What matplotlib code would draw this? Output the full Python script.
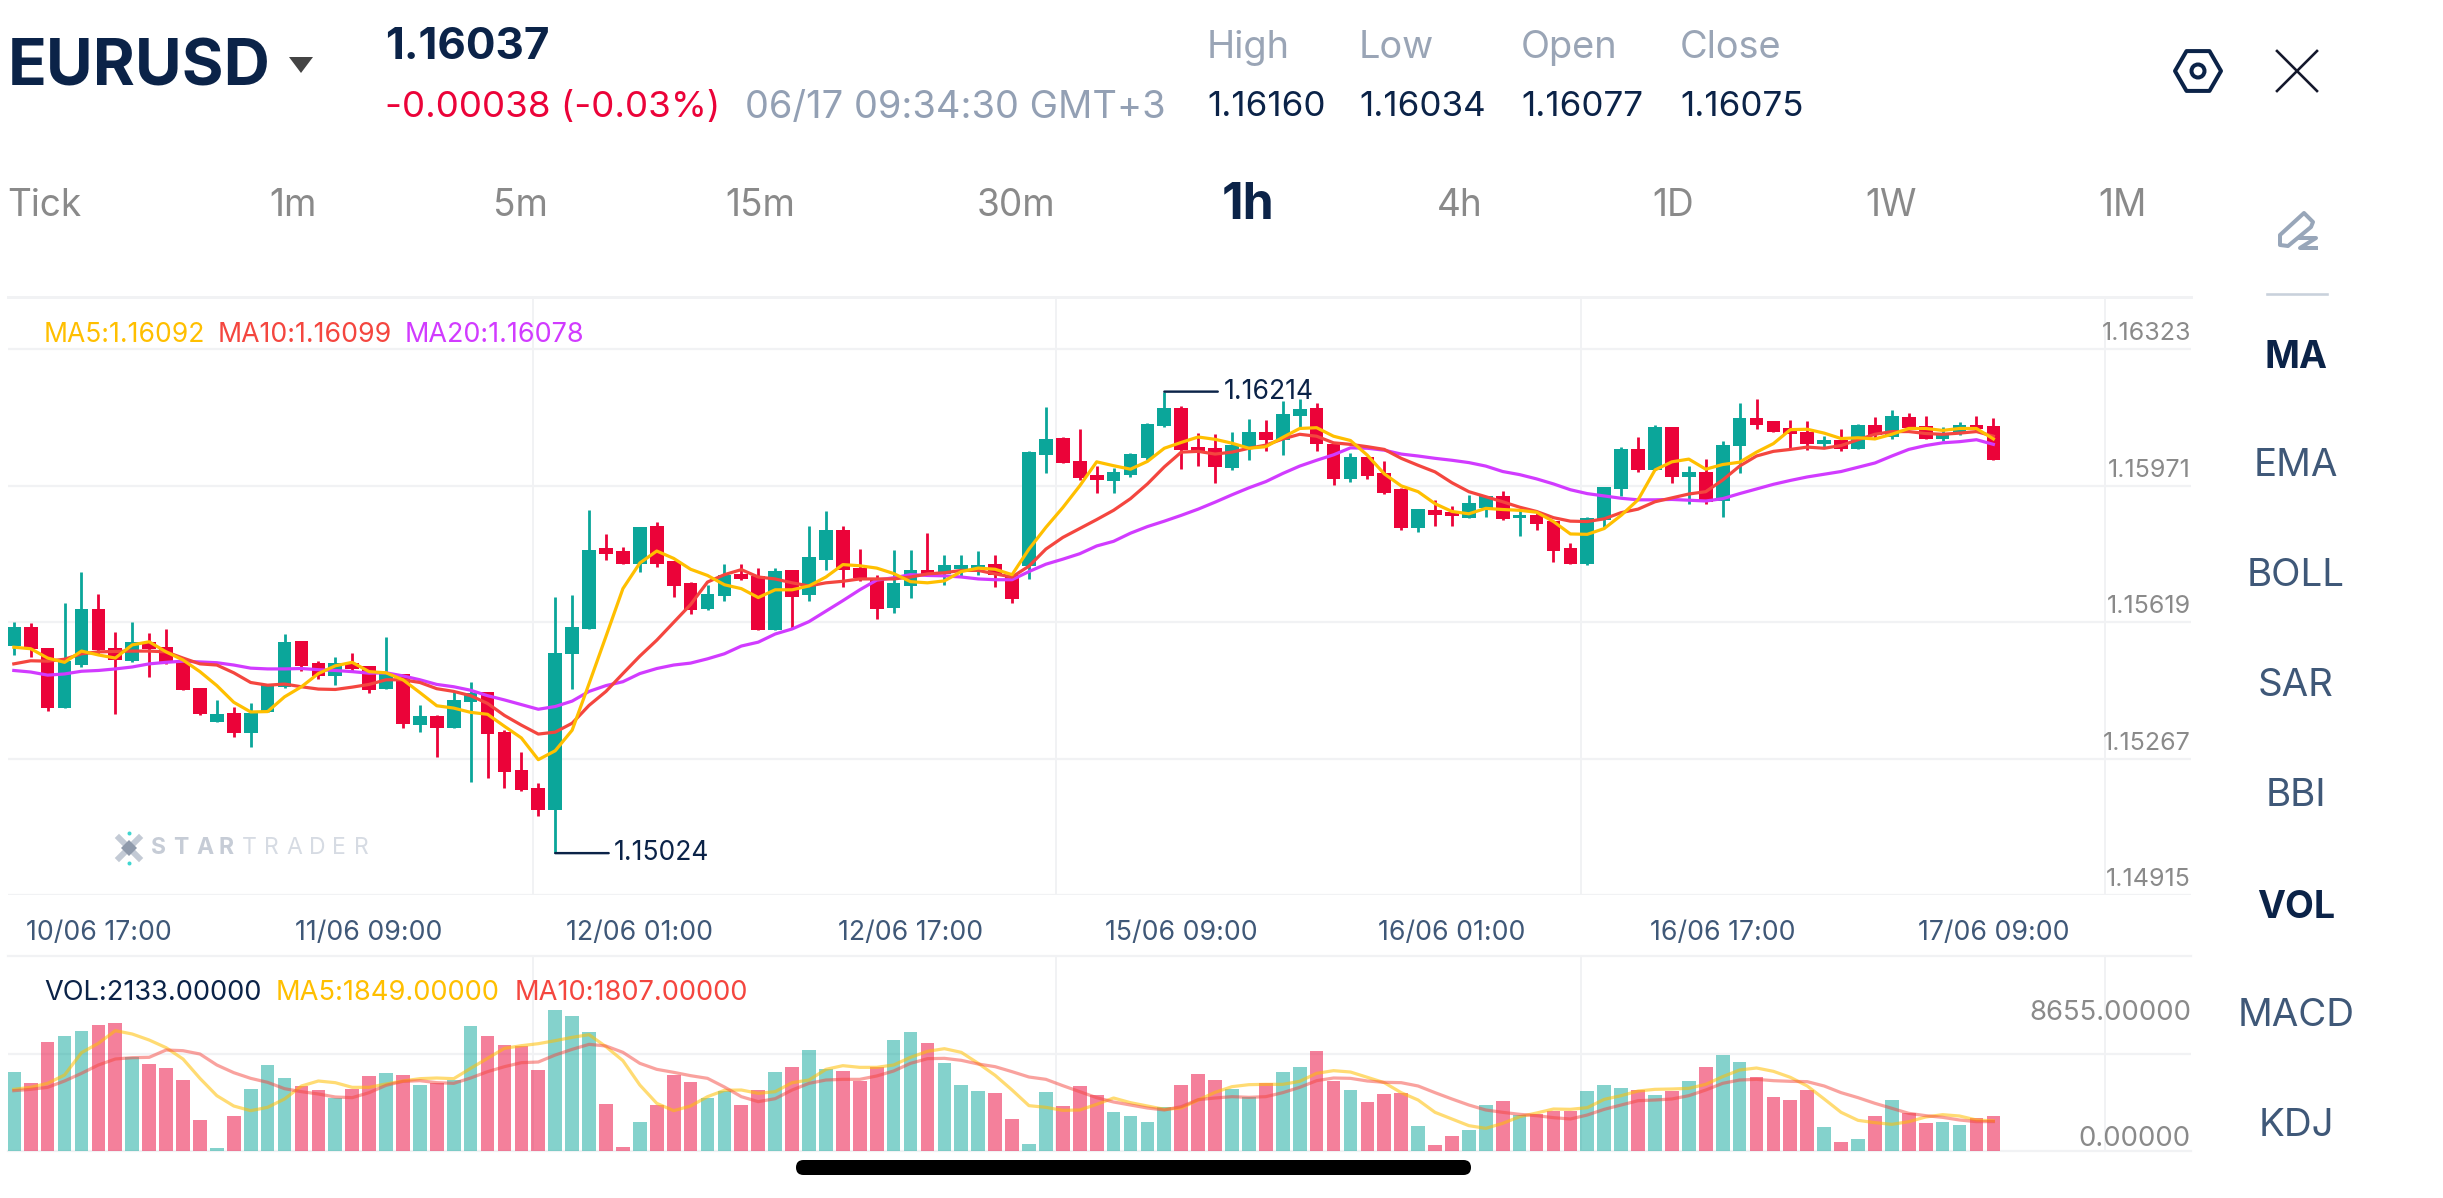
import numpy as np
import matplotlib
matplotlib.use("Agg")
import matplotlib.pyplot as plt
from matplotlib.patches import FancyBboxPatch, Polygon, RegularPolygon, Circle
from matplotlib.transforms import ScaledTranslation

W, H, DPI = 2443, 1198, 100
UI_FONT = "Inter"
plt.rcParams["font.family"] = [UI_FONT, "DejaVu Sans"]

# Hourly EURUSD quotes, in points (1 point = 0.00001)
opens = [115558,115608,115552,115397,115509,115653,115553,115519,115569,115556,115519,115451,115362,115385,115335,115389,115453,115572,115513,115481,115515,115507,115447,115485,115355,115377,115346,115413,115440,115337,115239,115193,115134,115537,115603,115810,115803,115770,115867,115777,115720,115653,115687,115744,115738,115599,115753,115689,115781,115858,115759,115731,115655,115712,115754,115743,115757,115758,115770,115740,115764,116051,116095,116036,115999,115984,115998,116042,116125,116173,116070,116068,116017,116070,116110,116090,116150,116171,116078,115988,116045,116004,115963,115862,115910,115904,115889,115915,115944,115887,115895,115881,115811,115769,115883,115964,116065,116012,116124,115994,116006,115933,116073,116147,116137,116119,116109,116078,116088,116067,116128,116097,116149,116126,116092,116104,116128,116125]
highs = [115621,115617,115552,115668,115750,115693,115594,115619,115592,115602,115519,115451,115419,115402,115412,115461,115588,115572,115520,115530,115541,115507,115581,115485,115405,115379,115441,115466,115440,115342,115285,115205,115684,115689,115908,115848,115813,115866,115878,115777,115723,115716,115770,115769,115758,115759,115753,115867,115905,115868,115808,115742,115806,115805,115849,115793,115792,115802,115793,115740,116062,116174,116097,116117,116021,116017,116057,116134,116214,116178,116107,116105,116109,116144,116141,116190,116195,116184,116080,116056,116045,116035,115966,115911,115935,115920,115948,115946,115959,115910,115900,115881,115824,115891,115967,116070,116096,116129,116124,116022,116039,116086,116184,116195,116139,116140,116137,116099,116117,116131,116148,116166,116159,116150,116123,116135,116150,116147]
lows = [115536,115531,115391,115397,115505,115538,115384,115517,115478,115512,115444,115381,115362,115323,115298,115388,115450,115493,115474,115458,115494,115437,115446,115346,115337,115272,115346,115208,115219,115193,115185,115119,115024,115448,115602,115779,115770,115750,115762,115684,115640,115652,115673,115729,115599,115599,115603,115675,115755,115711,115726,115627,115642,115682,115740,115715,115738,115740,115709,115670,115731,116005,116029,115986,115953,115952,115993,116037,116124,116014,116022,115978,116012,116037,116062,116051,116122,116060,115974,115982,115988,115949,115858,115851,115868,115868,115888,115891,115882,115842,115856,115775,115769,115768,115864,115944,116006,116011,115979,115925,115924,115892,116005,116118,116109,116066,116064,116072,116062,116066,116092,116091,116117,116091,116086,116101,116113,116037]
closes = [115608,115550,115398,115519,115653,115548,115521,115569,115550,115515,115445,115382,115384,115333,115385,115460,115569,115506,115481,115515,115499,115445,115489,115356,115378,115347,115420,115436,115331,115232,115186,115135,115541,115608,115806,115796,115770,115866,115770,115714,115652,115691,115742,115731,115599,115752,115684,115787,115857,115755,115733,115654,115720,115754,115741,115768,115767,115768,115740,115679,116058,116092,116031,115991,115985,116006,116052,116131,116172,116063,116058,116019,116076,116111,116088,116157,116170,116078,115988,116046,115997,115953,115862,115911,115895,115894,115926,115946,115886,115895,115872,115802,115770,115889,115967,116065,116012,116124,115995,116007,115930,116077,116146,116127,116111,116104,116080,116088,116066,116129,116101,116150,116121,116092,116104,116129,116117,116037]

ma5 = [115555,115551,115527,115516,115545,115535,115527,115561,115569,115543,115522,115492,115456,115413,115388,115389,115427,115453,115487,115507,115516,115492,115489,115471,115438,115404,115398,115387,115382,115351,115321,115265,115288,115341,115461,115583,115706,115772,115803,115784,115756,115740,115716,115706,115683,115703,115703,115713,115736,115768,115765,115759,115745,115724,115721,115726,115750,115759,115756,115742,115808,115864,115915,115971,116033,116023,116014,116034,116068,116083,116097,116091,116081,116068,116072,116096,116119,116121,116099,116088,116050,116002,115971,115956,115925,115905,115899,115913,115910,115908,115903,115879,115847,115846,115861,115895,115935,116012,116033,116040,116014,116026,116032,116058,116080,116116,116117,116107,116093,116095,116092,116104,116119,116119,116114,116119,116119,116092]
ma10 = [115512,115520,115519,115524,115538,115543,115544,115545,115545,115543,115527,115512,115509,115489,115464,115457,115460,115453,115447,115446,115452,115459,115471,115471,115464,115448,115441,115430,115410,115379,115354,115331,115336,115359,115405,115441,115487,115532,115573,115619,115665,115723,115742,115755,115736,115731,115721,115713,115721,115725,115731,115731,115731,115736,115744,115747,115753,115753,115744,115736,115764,115808,115838,115861,115884,115908,115938,115976,116020,116058,116060,116053,116058,116068,116076,116092,116104,116099,116082,116078,116072,116065,116042,116024,116007,115979,115956,115943,115930,115916,115905,115889,115880,115879,115886,115902,115911,115930,115940,115950,115956,115986,116022,116048,116060,116065,116071,116068,116075,116090,116104,116111,116111,116106,116104,116107,116111,116099]
ma20 = [115495,115491,115483,115486,115493,115495,115499,115504,115512,115516,115519,115517,115515,115509,115501,115499,115499,115500,115497,115495,115492,115488,115489,115481,115471,115459,115453,115444,115430,115419,115407,115395,115402,115416,115441,115456,115466,115487,115500,115509,115514,115525,115538,115558,115568,115589,115602,115621,115648,115675,115703,115728,115734,115742,115740,115739,115736,115731,115729,115729,115750,115769,115782,115796,115816,115828,115849,115866,115880,115895,115911,115929,115948,115966,115982,116003,116022,116037,116051,116069,116068,116063,116053,116048,116042,116037,116031,116022,116008,116000,115989,115976,115961,115951,115945,115939,115935,115935,115936,115934,115932,115938,115951,115963,115975,115985,115994,116001,116008,116019,116030,116048,116065,116075,116082,116085,116090,116078]

volume = [4829,4153,6690,7079,7386,7734,7877,5749,5320,5095,4358,1903,184,2128,3806,5279,4481,4010,3744,3274,3806,4604,4788,4665,4031,4153,4358,7673,7059,6506,6445,4972,8655,8266,7304,2864,266,1780,2823,4665,4215,3233,3683,2803,3724,4849,5135,6179,5013,4890,4276,5135,6813,7325,6609,5381,4031,3683,3560,1964,450,3621,2742,3990,3417,2394,2169,1780,2680,4031,4747,4338,3806,3335,4153,4829,5135,6138,4317,3744,3008,3519,3540,1555,368,941,1289,2844,3049,2210,2271,2455,2455,3683,4072,3887,3744,3458,3683,4297,5135,5913,5463,4522,3315,3130,3724,1473,552,716,2148,3110,2332,1719,1780,1596,2026,2133]
vol_ma5 = [3785,3908,4153,4665,6036,6609,7386,7181,6813,6343,5647,4460,3396,2762,2476,2680,3192,3990,4297,4194,3908,3908,4112,4297,4440,4481,4440,5074,5688,6302,6465,6588,6772,6977,7141,6404,5545,4051,2926,2476,2762,3335,3724,3744,3540,3642,4194,4358,5013,5238,5135,5135,5279,5749,6118,6281,6056,5381,4644,3744,2783,2680,2496,2517,2864,3253,2967,2762,2558,2639,3130,3601,3949,4072,4092,4092,4276,4767,4931,4849,4522,4194,3581,3130,2373,1964,1555,1391,1698,2107,2332,2578,2558,2660,3171,3396,3683,3785,3806,3846,4092,4563,4972,5095,4890,4522,3990,3192,2373,1882,1739,1637,1800,2087,2230,2148,1903,1849]
vol_ma10 = [3703,3785,3908,4297,4767,5279,5647,5729,5749,6199,6158,5954,5279,4808,4460,4215,3826,3642,3499,3315,3274,3581,4031,4276,4317,4194,4153,4481,4869,5176,5422,5463,5892,6240,6547,6445,6056,5381,5013,4829,4624,4460,3928,3335,3028,3212,3744,4153,4358,4399,4399,4604,4910,5381,5667,5688,5565,5340,5176,4869,4542,4399,4010,3642,3274,3008,2823,2639,2517,2721,3151,3253,3335,3294,3335,3581,3908,4317,4481,4460,4297,4215,4194,3990,3581,3192,2823,2517,2373,2251,2169,2046,1964,2210,2558,2823,3089,3130,3192,3396,3744,4153,4358,4399,4317,4276,4256,3990,3581,3274,2926,2619,2312,2169,2066,1903,1800,1807]

price_ticks = [114915, 115267, 115619, 115971, 116323]
date_ticks = [5, 21, 37, 53, 69, 85, 101, 117]
date_labels = ["10/06 17:00", "11/06 09:00", "12/06 01:00", "12/06 17:00",
               "15/06 09:00", "16/06 01:00", "16/06 17:00", "17/06 09:00"]
session_marks = [30.69, 61.6, 92.6, 123.6]
timeframes = ["Tick", "1m", "5m", "15m", "30m", "1h", "4h", "1D", "1W", "1M"]
timeframe_x = [44, 293, 520, 760, 1016, 1248, 1460, 1673, 1891, 2122]
indicators = ["MA", "EMA", "BOLL", "SAR", "BBI", "VOL", "MACD", "KDJ"]
indicator_y = [354, 463, 573, 682, 793, 904, 1013, 1122]
stat_names = ["High", "Low", "Open", "Close"]
stat_values = ["1.16160", "1.16034", "1.16077", "1.16075"]
stat_x = [1207, 1359, 1521, 1680]

TEAL, RED = "#0BA69A", "#EB0339"
YELLOW, ORANGE_RED, PURPLE = "#FFBF00", "#F4463F", "#D13BFF"
NAVY, GRID, GREY = "#0B2348", "#F1F2F4", "#8A8A8A"

opens, highs, lows, closes = (np.array(a) / 1e5 for a in (opens, highs, lows, closes))
ma5, ma10, ma20 = (np.array(a) / 1e5 for a in (ma5, ma10, ma20))
idx = np.arange(len(opens))
up = closes >= opens
candle_colors = np.where(up, TEAL, RED)


def px(v):
    return v * 72 / DPI


def panel(top, bottom):
    return [8 / W, 1 - bottom / H, (2191 - 8) / W, (bottom - top) / H]


XLIM = (-0.343, 128.68)
fig = plt.figure(figsize=(W / DPI, H / DPI), dpi=DPI, facecolor="white")

# Price panel
ax = fig.add_axes(panel(297, 895.4))
ax.set_xlim(*XLIM)
ax.set_ylim(1.14915, 1.16458)
ax.vlines(idx, lows, highs, colors=candle_colors, lw=px(2.8), zorder=3)
ax.bar(idx, np.abs(closes - opens), bottom=np.minimum(opens, closes), width=0.81,
       color=candle_colors, zorder=3)
ax.plot(idx, ma20, color=PURPLE, lw=px(3.2), zorder=4)
ax.plot(idx, ma10, color=ORANGE_RED, lw=px(3.2), zorder=5)
ax.plot(idx, ma5, color=YELLOW, lw=px(3.2), zorder=6)

ax.set_yticks(np.array(price_ticks) / 1e5, [f"{p / 1e5:.5f}" for p in price_ticks])
ax.set_xticks(date_ticks, date_labels)
ax.set_xticks(session_marks, minor=True)
ax.tick_params(axis="y", length=0, left=False, right=False, labelleft=False,
               labelright=True, pad=0, labelsize=px(25), labelcolor=GREY)
ax.tick_params(axis="x", which="major", length=0, pad=px(25), labelsize=px(26.7), labelcolor="#3F5878")
ax.tick_params(axis="x", which="minor", length=0)
shift = ScaledTranslation(0, 15.5 / DPI, fig.dpi_scale_trans)
for t in ax.yaxis.get_major_ticks():
    t.label2.set_ha("right")
    t.label2.set_va("center")
    t.label2.set_transform(t.label2.get_transform() + shift)
ax.grid(True, axis="y", which="major", color=GRID, lw=px(2.2), zorder=0)
ax.grid(True, axis="x", which="minor", color=GRID, lw=px(2), zorder=0)
ax.grid(False, axis="x", which="major")
for side in ("left", "right", "bottom"):
    ax.spines[side].set_visible(False)
ax.spines["top"].set_color(GRID)
ax.spines["top"].set_linewidth(px(3))
ax.set_axisbelow(True)

# Extreme price call-outs
for i, label_text, y in ((int(np.argmin(lows)), f"{lows.min():.5f}", lows.min()),
                         (int(np.argmax(highs)), f"{highs.max():.5f}", highs.max())):
    ax.annotate(label_text, xy=(i, y), xytext=(59, 0), textcoords="offset pixels",
                va="center", ha="left", fontsize=px(26.5), color=NAVY, zorder=8,
                arrowprops=dict(arrowstyle="-", color=NAVY, lw=px(2.4), shrinkA=2, shrinkB=0))

# Volume panel
vx = fig.add_axes(panel(956, 1151))
vol_top = 8655 * (1151 - 956) / 141
vx.set_xlim(*XLIM)
vx.set_ylim(0, vol_top)
vx.bar(idx, volume, width=0.81, color=candle_colors, alpha=0.5, zorder=3)
vx.plot(idx, vol_ma5, color=YELLOW, lw=px(3.2), alpha=0.55, zorder=4)
vx.plot(idx, vol_ma10, color=ORANGE_RED, lw=px(3.2), alpha=0.5, zorder=5)
vx.set_yticks([0, 8655], ["0.00000", "8655.00000"])
vx.set_yticks([vol_top / 2], minor=True)
vx.set_xticks([])
vx.set_xticks(session_marks, minor=True)
vx.tick_params(axis="both", which="both", length=0)
vx.tick_params(axis="y", which="major", left=False, labelleft=False, labelright=True,
               pad=0, labelsize=px(27.5), labelcolor=GREY)
vx.grid(True, axis="y", which="minor", color=GRID, lw=px(2.2), zorder=0)
vx.grid(True, axis="x", which="minor", color=GRID, lw=px(2), zorder=0)
vx.set_axisbelow(True)
for j, t in enumerate(vx.yaxis.get_major_ticks()):
    t.label2.set_ha("right")
    t.label2.set_va("center")
    offset = 12 if j == 0 else -3
    t.label2.set_transform(t.label2.get_transform() + ScaledTranslation(0, offset / DPI, fig.dpi_scale_trans))
for side in ("left", "right"):
    vx.spines[side].set_visible(False)
for side in ("top", "bottom"):
    vx.spines[side].set_color(GRID)
    vx.spines[side].set_linewidth(px(2.2))

# Screen furniture, laid out in figure pixels
ui = fig.add_axes([0, 0, 1, 1], facecolor="none", zorder=10)
ui.set_xlim(0, W)
ui.set_ylim(H, 0)
ui.axis("off")


def label(x, y, s, size, color, ha="left", weight="normal", **kw):
    return ui.text(x, y + 3.5, s, fontsize=px(size), color=color, ha=ha, va="center", fontweight=weight, **kw)


label(8, 65, "EURUSD", 64, NAVY, weight="bold")
ui.add_patch(Polygon([(289, 57), (313, 57), (301, 73)], closed=True, color="#444444", lw=0))
label(385, 44, "1.16037", 44, NAVY, weight="bold")
label(385, 104, "-0.00038 (-0.03%)", 36.7, RED)
label(745, 104, "06/17 09:34:30 GMT+3", 38, "#93A0B4")
for name, value, x in zip(stat_names, stat_values, stat_x):
    label(x, 44, name, 38, "#9AA5B6")
    label(x, 104, value, 35, NAVY)
for name, x in zip(timeframes, timeframe_x):
    if name == "1h":
        label(x, 202, name, 50, NAVY, ha="center", weight="bold")
    else:
        label(x, 202, name, 37, GREY, ha="center")
for name, y in zip(indicators, indicator_y):
    if name in ("MA", "VOL"):
        label(2296, y, name, 37.5, NAVY, ha="center", weight="bold")
    else:
        label(2296, y, name, 38.5, "#3F5878", ha="center")

label(44, 332, "MA5:1.16092", 26.5, YELLOW)
label(218, 332, "MA10:1.16099", 26.7, ORANGE_RED)
label(405, 332, "MA20:1.16078", 27, PURPLE)
label(44, 990, "VOL:2133.00000", 27.2, NAVY)
label(276, 990, "MA5:1849.00000", 27.3, YELLOW)
label(515, 990, "MA10:1807.00000", 27.3, ORANGE_RED)

# Settings, close and drawing icons
ui.add_patch(RegularPolygon((2198, 71), 6, radius=23, orientation=np.pi / 6, fill=False,
                            edgecolor=NAVY, lw=px(4), joinstyle="round"))
ui.add_patch(Circle((2198, 71), 6.5, fill=False, edgecolor=NAVY, lw=px(4)))
ui.plot([2277, 2317], [51, 91], color="#14182C", lw=px(2.6))
ui.plot([2277, 2317], [91, 51], color="#14182C", lw=px(2.6))
ui.add_patch(Polygon([(2280, 245), (2280, 235), (2304, 213), (2313, 222), (2311, 227), (2288, 246)],
                     closed=True, fill=False, edgecolor="#98A6B9", lw=px(4), joinstyle="round"))
ui.plot([2300, 2316, 2300, 2316], [238, 238, 248, 248], color="#98A6B9", lw=px(4))
ui.plot([2267, 2327], [294, 294], color="#C9D1DC", lw=px(2.6))

# Watermark
ui.plot([119, 139], [838, 858], color="#C3CAD5", lw=px(6))
ui.plot([119, 139], [858, 838], color="#C3CAD5", lw=px(6))
ui.plot([129], [848], marker="D", ms=px(12), color="#8F9AAB", mew=0)
ui.plot([129, 129], [832.5, 862.5], ls="none", marker="o", ms=px(4), color="#3FD6D0", mew=0)
for i, ch in enumerate("STARTRADER"):
    label(151 + i * 22.6, 844, ch, 23, "#C6CCD6" if i < 4 else "#D6DBE3", weight="bold" if i < 4 else "normal")

# Home indicator
ui.add_patch(FancyBboxPatch((796, 1160), 675, 15, boxstyle="round,pad=0,rounding_size=7.5",
                            facecolor="black", edgecolor="none"))

fig.savefig("out.png", dpi=DPI, facecolor="white")
